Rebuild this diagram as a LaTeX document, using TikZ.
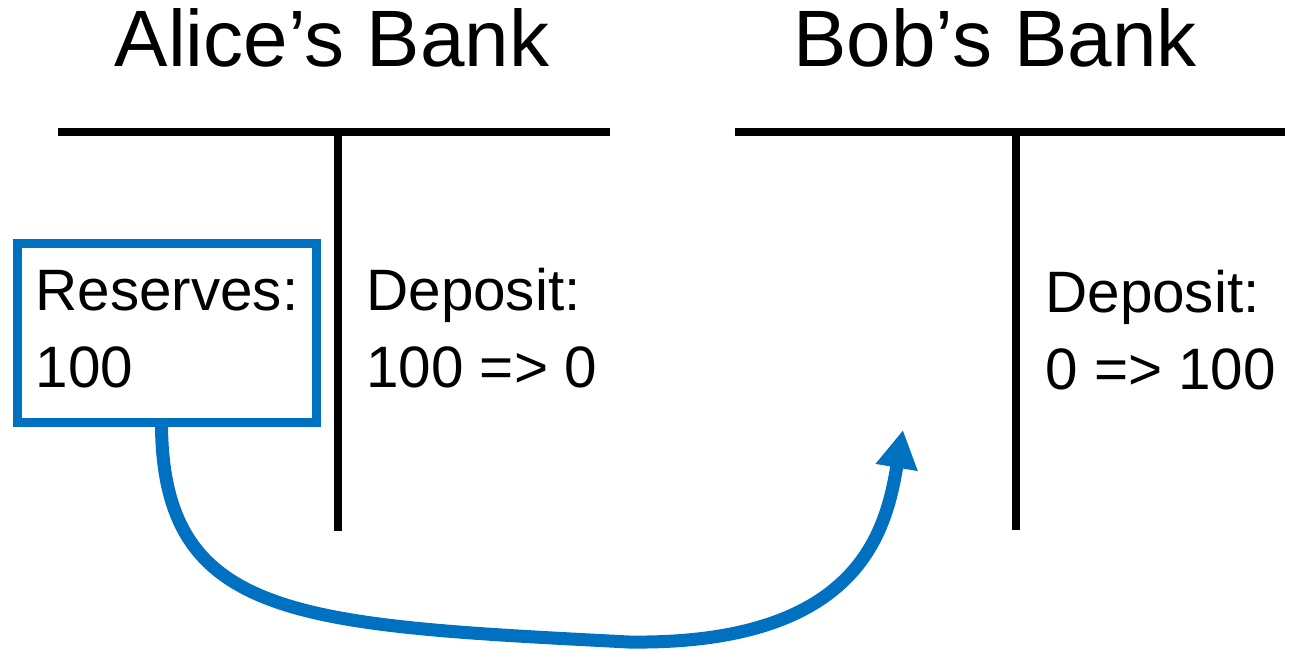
\documentclass[tikz,border=0pt]{standalone}
\usepackage{fontspec}
\setmainfont{Liberation Sans}
\usetikzlibrary{arrows.meta}
\definecolor{officeblue}{RGB}{0,112,192}
\begin{document}
\begin{tikzpicture}[x=0.5pt,y=-0.5pt,
  tline/.style={line width=4pt},
  banktitle/.style={font=\fontsize{40}{48}\selectfont, inner sep=0pt, anchor=base},
  body/.style={font=\fontsize{29.2}{38.5}\selectfont, align=left, inner sep=0pt, anchor=north west},
  resbox/.style={draw=officeblue, line width=4.5pt, minimum width=149.5pt, minimum height=89.5pt,
    inner sep=0pt, align=left, text depth=4pt, font=\fontsize{29.2}{38.5}\selectfont},
  flow/.style={draw=officeblue, line width=6.5pt, -{Triangle[length=19pt,width=20pt]}}
]
\useasboundingbox (0,0) rectangle (1294,650);

% titles
\node[banktitle] (atitle) at (332,66) {Alice’s Bank};
\node[banktitle] (btitle) at (995,66) {Bob’s Bank};

% T-accounts
\draw[tline] (58,132) -- (610,132);
\draw[tline] (338,132) -- (338,531);
\draw[tline] (735,132) -- (1285,132);
\draw[tline] (1016,132) -- (1016,530);

% contents
\node[resbox] (res) at (167,333) {Reserves:\\100};
\node[body] (adep) at (366,268) {Deposit:\\100 => 0};
\node[body] (bdep) at (1045,270) {Deposit:\\0 => 100};

% transfer arrow
\coordinate (tip) at (903,430);
\draw[flow] ([xshift=-2.75pt]res.south) .. controls (164,620) and (300,625) .. (629,642)
  .. controls (860,645) and (886,530) .. (tip);
\end{tikzpicture}
\end{document}
